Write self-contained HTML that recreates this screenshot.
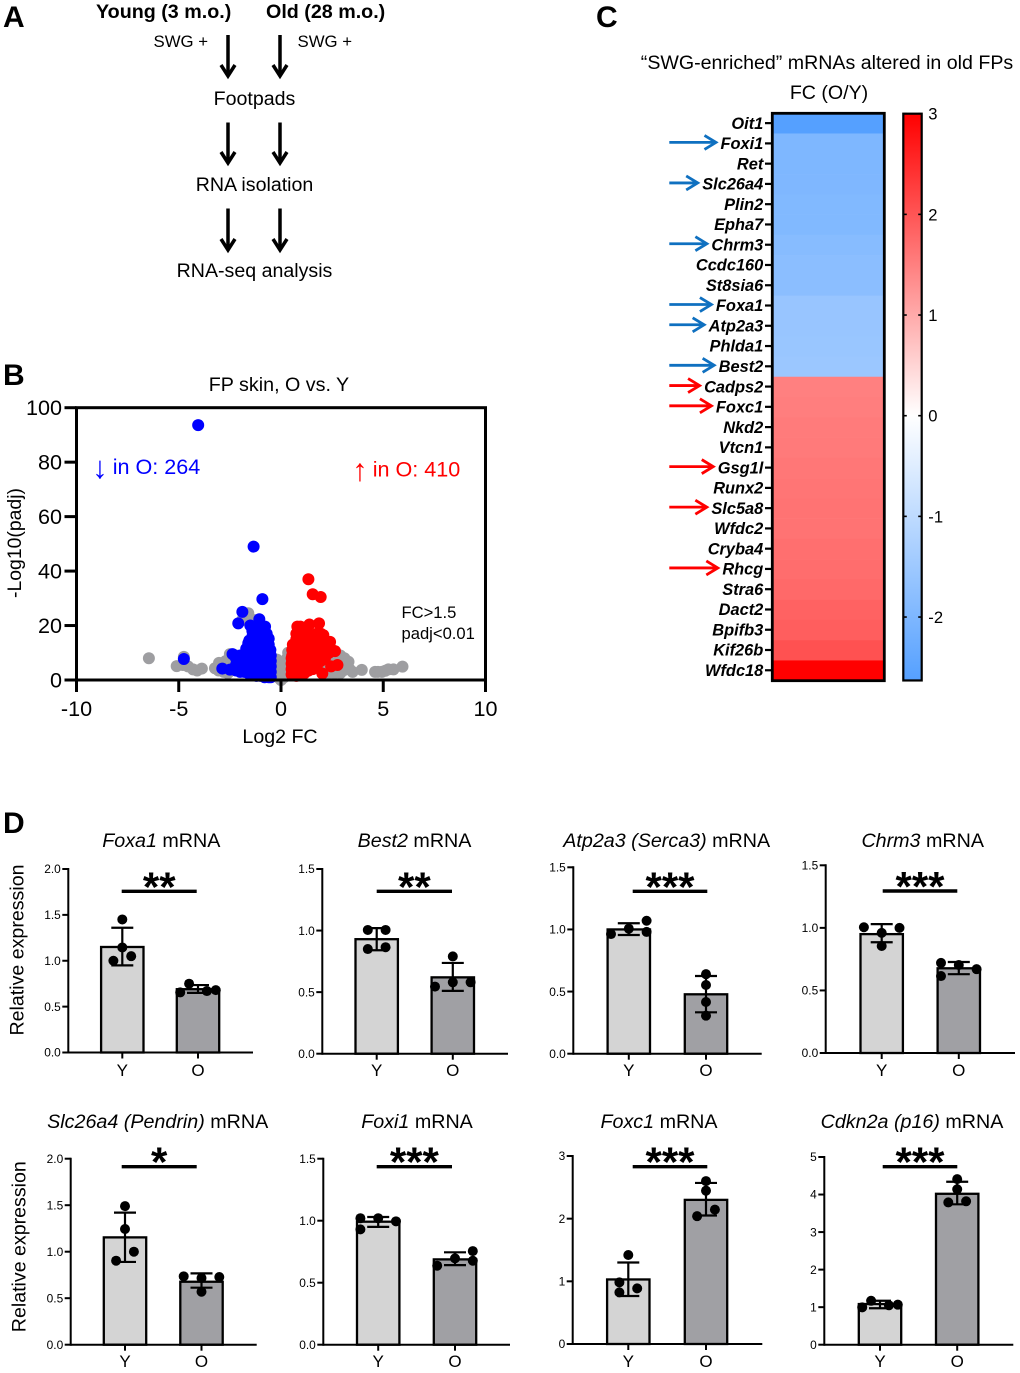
<!DOCTYPE html>
<html lang="en">
<head>
<meta charset="utf-8">
<title>Old vs young footpad RNA-seq figure</title>
<style>
html,body{margin:0;padding:0;background:#fff;}
svg{display:block;font-family:"Liberation Sans",sans-serif;fill:#000;}
</style>
</head>
<body>
<svg id="figure" xmlns="http://www.w3.org/2000/svg" width="1020" height="1373" viewBox="0 0 1020 1373">
  <rect width="1020" height="1373" fill="#fff"/>
  <g id="panel-a">
    <text x="3" y="27" font-size="30" font-weight="700">A</text>
    <text x="96" y="18" font-size="19.7" font-weight="700">Young (3 m.o.)</text>
    <text x="266" y="18" font-size="19.7" font-weight="700">Old (28 m.o.)</text>
    <text x="153.5" y="47" font-size="16.8">SWG +</text>
    <text x="297.5" y="47" font-size="16.8">SWG +</text>
    <text x="254.5" y="105" font-size="19.6" text-anchor="middle">Footpads</text>
    <text x="254.5" y="191" font-size="19.6" text-anchor="middle">RNA isolation</text>
    <text x="254.5" y="277" font-size="19.6" text-anchor="middle">RNA-seq analysis</text>
    <g id="workflow-arrows" fill="none" stroke="#000" stroke-width="3.5"></g>
  </g>
  <g id="panel-b"></g>
  <g id="panel-c"></g>
  <g id="panel-d">
    <text x="3" y="833" font-size="30" font-weight="700">D</text>
  </g>
</svg>
<script>
// ---------- Panel A ----------
const workflowColumns = [228, 280];
const workflowRows = [[35, 76], [122.5, 163], [208.5, 250]];

// ---------- Panel B data ----------
const volcanoXTicks = [-10, -5, 0, 5, 10];
const volcanoYTicks = [0, 20, 40, 60, 80, 100];
const grayPoints = [[-6.46,8],[-5.1,5.1],[-4.8,5.5],[-4.75,8.5],[-4.55,5],[-4.3,3.9],[-4.1,3.5],[-3.87,4.2],[-3.23,4.3],[-3.05,3.5],[-3.03,6.3],[-2.8,3],[-2.7,7],[-2.6,2.5],[-2.5,5],[-2.5,9.5],[-2.2,9],[-1.9,22],[-1.75,23],[-1.6,24.5],[-1.3,22],[0,0],[0,1],[-0.1,2],[0.1,2],[-0.1,3],[0.1,3],[-0.15,1],[0.15,1],[-0.25,4],[0.25,4],[-0.15,5],[0.15,5],[-0.3,6],[-0.2,7.5],[0.3,8],[0.35,10],[0.45,9],[2.1,4],[2.3,2.5],[2.3,8],[2.5,4],[2.6,2.5],[2.6,7],[2.75,8.5],[2.9,2.5],[2.9,9],[3.0,6],[3.1,3.7],[3.1,8],[3.2,5],[3.3,6.7],[3.35,4],[3.5,3],[3.95,3.7],[4.6,3],[4.75,3],[4.93,3],[5.1,3.4],[5.25,3.9],[5.5,3.9],[5.94,4.9]];
const bluePoints = [[-4.05,93.6],[-1.34,49],[-0.91,29.7],[-1.89,25],[-2.09,20.8],[-1.06,22.3],[-1.5,20],[-0.78,19.6],[-4.75,7.7],[-2.87,4.2],[-2.37,9.5],[-0.5,1],[-0.5,3],[-0.5,5],[-0.5,7],[-0.5,9],[-0.52,11],[-0.6,1],[-0.6,3],[-0.6,5],[-0.6,7],[-0.6,9],[-0.6,11],[-0.6,13],[-0.6,15.2],[-0.7,17],[-0.8,1],[-0.8,3],[-0.8,5],[-0.8,7],[-0.8,9],[-0.8,11],[-0.8,13],[-0.8,15],[-0.8,17],[-1,1.5],[-1,3],[-1,5],[-1,7],[-1,9],[-1,11],[-1,13],[-1,15],[-1,17],[-1,19],[-1.2,1.5],[-1.2,3],[-1.2,5],[-1.2,7],[-1.2,9],[-1.2,11],[-1.2,13],[-1.2,15],[-1.2,17],[-1.2,19],[-1.4,2],[-1.4,4],[-1.4,6],[-1.4,8],[-1.4,10],[-1.4,12],[-1.4,14],[-1.4,16],[-1.4,18],[-1.6,2.5],[-1.6,4],[-1.6,6],[-1.6,8],[-1.6,10],[-1.6,12],[-1.6,13.5],[-1.55,14.5],[-1.7,11.5],[-1.8,3],[-1.8,5],[-1.8,7],[-1.8,9],[-2,3],[-2,5],[-2,7.5],[-2,9],[-2.2,3.5],[-2.2,5.5],[-2.2,8],[-2.5,3.8]];
const redPoints = [[1.34,37],[1.55,31.5],[1.94,30.5],[0.8,19.6],[1.39,20.4],[1.86,20.8],[2.07,16.5],[2.4,14],[2.64,10.6],[2.76,5.5],[2.45,5],[2.02,2.4],[0.52,2],[0.52,4],[0.52,6],[0.52,8],[0.55,3],[0.55,5],[0.55,7],[0.55,9],[0.55,11],[0.58,13],[0.75,1.5],[0.75,3],[0.75,5],[0.75,7],[0.75,9],[0.75,11],[0.75,13],[0.75,15],[0.75,17],[0.95,2],[0.95,4],[0.95,6],[0.95,8],[0.95,10],[0.95,12],[0.95,14],[0.95,16],[0.95,18],[0.95,19.6],[1.15,2.5],[1.15,4],[1.15,6],[1.15,8],[1.15,10],[1.15,12],[1.15,14],[1.15,16],[1.15,18],[1.35,3.5],[1.35,5],[1.35,7],[1.35,9],[1.35,11],[1.35,13],[1.35,15],[1.35,17],[1.55,4],[1.55,6],[1.55,8],[1.55,10],[1.55,12],[1.55,14],[1.55,16],[1.75,5],[1.75,7],[1.75,9],[1.75,11],[1.75,13],[1.75,15],[1.75,17],[1.95,7],[1.95,9],[1.95,11],[1.95,13],[1.95,15],[1.95,17],[2.15,8],[2.15,10],[2.15,12],[2.15,14],[2.35,10],[2.4,12]];

// ---------- Panel C data ----------
const heatmapGenes = ["Oit1","Foxi1","Ret","Slc26a4","Plin2","Epha7","Chrm3","Ccdc160","St8sia6","Foxa1","Atp2a3","Phlda1","Best2","Cadps2","Foxc1","Nkd2","Vtcn1","Gsg1l","Runx2","Slc5a8","Wfdc2","Cryba4","Rhcg","Stra6","Dact2","Bpifb3","Kif26b","Wfdc18"];
const heatmapValues = [-2.63,-2.0,-2.0,-1.98,-1.95,-1.95,-1.85,-1.8,-1.8,-1.6,-1.6,-1.58,-1.55,1.5,1.52,1.55,1.56,1.6,1.62,1.65,1.65,1.7,1.72,1.76,1.85,1.9,2.05,3.0];
const markedGenes = ["Foxi1","Slc26a4","Chrm3","Foxa1","Atp2a3","Best2","Cadps2","Foxc1","Gsg1l","Slc5a8","Rhcg"];
const colorbarTicks = [3, 2, 1, 0, -1, -2];

// ---------- Panel D data ----------
const geneItalic = ["Foxa1","Best2","Atp2a3 (Serca3)","Chrm3","Slc26a4 (Pendrin)","Foxi1","Foxc1","Cdkn2a (p16)"];
const axisTicks = [[0,0.5,1,1.5,2],[0,0.5,1,1.5],[0,0.5,1,1.5],[0,0.5,1,1.5],[0,0.5,1,1.5,2],[0,0.5,1,1.5],[0,1,2,3],[0,1,2,3,4,5]];
const tickDigits = [1,1,1,1,1,1,0,0];
const groupNames = ["Y","O"];
const youngMeans = [1.15,0.93,1.0,0.95,1.154,0.992,1.03,1.083];
const youngErrHigh = [1.36,1.02,1.05,1.03,1.42,1.03,1.3,1.17];
const youngErrLow = [0.95,0.84,0.955,0.885,0.89,0.95,0.766,0.97];
const oldMeans = [0.69,0.62,0.478,0.677,0.677,0.688,2.3,4.02];
const oldErrHigh = [0.735,0.737,0.625,0.727,0.767,0.745,2.57,4.34];
const oldErrLow = [0.65,0.51,0.333,0.63,0.613,0.642,2.05,3.74];
const youngDots = [[1.45,1.145,1.05,1.0],[1.005,1.005,0.85,0.865],[1.07,1.006,0.98,0.963],[1.005,1.0,0.96,0.855],[1.49,1.244,1.0,0.903],[1.02,1.02,0.995,0.93],[1.42,0.984,0.888,0.824],[1.17,1.066,1.05,0.995]];
const oldDots = [[0.75,0.67,0.655,0.68],[0.79,0.58,0.58,0.545],[0.64,0.553,0.416,0.306],[0.72,0.703,0.67,0.615],[0.735,0.728,0.717,0.57],[0.755,0.677,0.696,0.637],[2.6,2.447,2.144,2.04],[4.41,4.14,3.82,3.79]];
const significance = ["**","**","***","***","*","***","***","***"];

// Swarm slot of each dot (1 slot = half a dot width step)
const youngSwarm = [[0,0,1,-1],[-1,1,-1,1],[2,0,2,-2],[-2,2,0,0],[0,0,1,-1],[-2,0,2,-2],[0,-1,1,-1],[-1,2,1,-2]];
const oldSwarm = [[-1,1,-2,2],[0,0,2,-2],[0,0,0,0],[-2,0,2,-2],[-2,2,0,0],[2,2,0,-2],[0,0,1,-1],[0,0,1,-1]];
const swarmSlot = 8.9;

// Pixel frame of each small chart: axis x, y of top tick, y of zero, baseline end, two bar centres, significance line
const chartFrames = [
  {ax:68.3, top:869, zero:1052.5, end:253, c1:122.3, c2:198, sx1:121.7, sx2:196.7, sy:891.3, tc:161.3, ty:847, gy:1076},
  {ax:322.3, top:869, zero:1053.7, end:508, c1:376.7, c2:452.8, sx1:376.7, sx2:452, sy:891.3, tc:414.5, ty:847, gy:1076},
  {ax:573.3, top:867.3, zero:1053.7, end:761.7, c1:628.8, c2:706, sx1:632.7, sx2:707.3, sy:891.3, tc:666.7, ty:847, gy:1076},
  {ax:825.7, top:865.3, zero:1053, end:1015, c1:881.7, c2:958.8, sx1:882.7, sx2:957.3, sy:891, tc:922.7, ty:847, gy:1076},
  {ax:70.7, top:1158.7, zero:1344.7, end:256.7, c1:125, c2:201.5, sx1:121.7, sx2:196.7, sy:1166.7, tc:157.7, ty:1128, gy:1367},
  {ax:323.3, top:1158.7, zero:1344.7, end:510, c1:378.2, c2:455, sx1:376.7, sx2:452, sy:1166.7, tc:417, ty:1128, gy:1367},
  {ax:572.7, top:1156, zero:1344, end:762.3, c1:628.3, c2:706, sx1:632.7, sx2:707.3, sy:1166.7, tc:659, ty:1128, gy:1367},
  {ax:824.3, top:1157, zero:1344.7, end:1013.3, c1:880, c2:957.2, sx1:882.7, sx2:957.3, sy:1166.7, tc:912, ty:1128, gy:1367}
];

// ---------- helpers ----------
const NS = "http://www.w3.org/2000/svg";
function mk(tag, attrs, parent, txt) {
  const n = document.createElementNS(NS, tag);
  for (const k in attrs) n.setAttribute(k, attrs[k]);
  if (txt !== undefined) n.textContent = txt;
  parent.appendChild(n);
  return n;
}

// ---------- draw Panel A arrows ----------
const wfGroup = document.getElementById("workflow-arrows");
workflowColumns.forEach(function (cx) {
  workflowRows.forEach(function (r) {
    const shaft = mk("line", {x1: cx, x2: cx, y1: r[0], y2: r[1] - 1}, wfGroup);
    
    
    const head = mk("polyline", {points: (cx - 7) + "," + (r[1] - 11) + " " + cx + "," + r[1] + " " + (cx + 7) + "," + (r[1] - 11)}, wfGroup);
    
    
  });
});

// ---------- draw Panel B ----------
(function () {
  const g = document.getElementById("panel-b");
  const vx = function (v) { return 281 + v * 20.45; };
  const vy = function (v) { return 680 - v * 2.723; };
  const label = mk("text", {x: 3, y: 385, "font-size": 30, "font-weight": 700}, g, "B");
  
  
  const title = mk("text", {x: 279, y: 391, "font-size": 19.7, "text-anchor": "middle"}, g, "FP skin, O vs. Y");
  
  

  grayPoints.forEach(function (p) {
    const c = mk("circle", {cx: vx(p[0]), cy: vy(p[1]), r: 6, fill: "#9e9ea1"}, g);
    
    
  });
  bluePoints.forEach(function (p) {
    const c = mk("circle", {cx: vx(p[0]), cy: vy(p[1]), r: 6, fill: "#0000ff"}, g);
    
    
  });
  redPoints.forEach(function (p) {
    const c = mk("circle", {cx: vx(p[0]), cy: vy(p[1]), r: 6, fill: "#ff0000"}, g);
    
    
  });

  const frame = mk("rect", {x: vx(-10), y: vy(100), width: vx(10) - vx(-10), height: vy(0) - vy(100), fill: "none", stroke: "#000", "stroke-width": 3}, g);
  
  

  volcanoXTicks.forEach(function (t) {
    const tick = mk("line", {x1: vx(t), x2: vx(t), y1: 680, y2: 692, stroke: "#000", "stroke-width": 3}, g);
    
    
    const lab = mk("text", {x: vx(t), y: 716, "font-size": 21.6, "text-anchor": "middle"}, g, String(t));
    
    
  });
  volcanoYTicks.forEach(function (t) {
    const tick = mk("line", {x1: 64.5, x2: vx(-10), y1: vy(t), y2: vy(t), stroke: "#000", "stroke-width": 3}, g);
    
    
    const lab = mk("text", {x: 62, y: vy(t) + 7.5, "font-size": 21.6, "text-anchor": "end"}, g, String(t));
    
    
  });

  const xTitle = mk("text", {x: 280, y: 743, "font-size": 19.6, "text-anchor": "middle"}, g, "Log2 FC");
  
  
  const yTitle = mk("text", {transform: "translate(21,543) rotate(-90)", "font-size": 19.4, "text-anchor": "middle"}, g, "-Log10(padj)");
  
  

  const downCount = mk("text", {fill: "#0000ff", "font-size": 21.6}, g);
  
  
  mk("tspan", {x: 100, y: 478, "font-size": 31, "text-anchor": "middle"}, downCount, "↓");
  mk("tspan", {x: 112.7, y: 474}, downCount, "in O: 264");
  const upCount = mk("text", {fill: "#ff0000", "font-size": 21.6}, g);
  
  
  mk("tspan", {x: 360, y: 480.5, "font-size": 31, "text-anchor": "middle"}, upCount, "↑");
  mk("tspan", {x: 372.7, y: 476.5}, upCount, "in O: 410");
  const fcNote = mk("text", {x: 401.5, y: 618, "font-size": 16.6}, g, "FC>1.5");
  
  
  const padjNote = mk("text", {x: 401.5, y: 639, "font-size": 16.6}, g, "padj<0.01");
  
  
})();

// ---------- draw Panel C ----------
(function () {
  const g = document.getElementById("panel-c");
  const hx0 = 772.3, hx1 = 884.3, hy0 = 113.3, hy1 = 680.7, rowH = (hy1 - hy0) / heatmapGenes.length;
  const barX0 = 903.3, barX1 = 921.7;
  const cbY = function (v) { return 415.7 - v * 100.67; };
  const minV = -2.63, maxV = 3;
  function colorFor(v) {
    if (v >= 0) {
      const t = v / maxV;
      return "rgb(255," + Math.round(255 * (1 - t)) + "," + Math.round(255 * (1 - t)) + ")";
    }
    const t = v / minV;
    return "rgb(" + Math.round(255 - 170 * t) + "," + Math.round(255 - 95 * t) + ",255)";
  }
  const label = mk("text", {x: 596, y: 27, "font-size": 30, "font-weight": 700}, g, "C");
  
  
  const title = mk("text", {x: 827, y: 69, "font-size": 19.6, "text-anchor": "middle"}, g, "“SWG-enriched” mRNAs altered in old FPs");
  
  
  const sub = mk("text", {x: 829, y: 99, "font-size": 19.6, "text-anchor": "middle"}, g, "FC (O/Y)");
  
  

  heatmapGenes.forEach(function (gene, i) {
    const y = hy0 + i * rowH, cy = y + rowH / 2;
    const cell = mk("rect", {x: hx0, y: y, width: hx1 - hx0, height: rowH + 0.3, fill: colorFor(heatmapValues[i])}, g);
    
    
    const tick = mk("line", {x1: 765, x2: hx0, y1: cy - 0.3, y2: cy - 0.3, stroke: "#000", "stroke-width": 2.2}, g);
    
    
    const lab = mk("text", {x: 763.3, y: cy + 5.4, "font-size": 16.4, "font-weight": 700, "font-style": "italic", "text-anchor": "end"}, g, gene);
    
    
    if (markedGenes.indexOf(gene) >= 0) {
      const col = heatmapValues[i] < 0 ? "#0f70c0" : "#ff0000";
      const tip = 763.3 - lab.getComputedTextLength() - 4;
      const ay = cy - 1.3;
      const shaft = mk("line", {x1: 669.3, x2: tip - 1.5, y1: ay, y2: ay, stroke: col, "stroke-width": 2.8}, g);
      
      
      const head = mk("polyline", {points: (tip - 12) + "," + (ay - 7) + " " + (tip - 0.5) + "," + ay + " " + (tip - 12) + "," + (ay + 7), fill: "none", stroke: col, "stroke-width": 2.8}, g);
      
      
    }
  });
  const frame = mk("rect", {x: hx0, y: hy0, width: hx1 - hx0, height: hy1 - hy0, fill: "none", stroke: "#000", "stroke-width": 2.8}, g);
  
  

  const defs = mk("defs", {}, g);
  const grad = mk("linearGradient", {id: "cbGrad", x1: 0, x2: 0, y1: 0, y2: 1}, defs);
  const zeroOff = (cbY(0) - cbY(maxV)) / (cbY(minV) - cbY(maxV));
  mk("stop", {offset: 0, "stop-color": colorFor(maxV)}, grad);
  mk("stop", {offset: zeroOff, "stop-color": "#ffffff"}, grad);
  mk("stop", {offset: 1, "stop-color": colorFor(minV)}, grad);
  const bar = mk("rect", {x: barX0, y: cbY(maxV), width: barX1 - barX0, height: cbY(minV) - cbY(maxV), fill: "url(#cbGrad)", stroke: "#000", "stroke-width": 2.2}, g);
  
  
  colorbarTicks.forEach(function (t) {
    const left = mk("line", {x1: barX0, x2: barX0 + 3.5, y1: cbY(t), y2: cbY(t), stroke: "#000", "stroke-width": 1.6}, g);
    
    
    const right = mk("line", {x1: barX1 - 3.5, x2: barX1, y1: cbY(t), y2: cbY(t), stroke: "#000", "stroke-width": 1.6}, g);
    
    
    const lab = mk("text", {x: 928.3, y: cbY(t) + 6, "font-size": 16.6}, g, String(t));
    
    
  });
})();

// ---------- draw Panel D ----------
(function () {
  const root = document.getElementById("panel-d");
  const halfBar = 21.2, capHalf = 11, dotR = 5;

  [[17, 865, 1035, 23.5], [19, 1161.7, 1331.7, 25.5]].forEach(function (r) {
    const t = mk("text", {transform: "translate(" + r[3] + "," + (r[1] + r[2]) / 2 + ") rotate(-90)", "font-size": 19.6, "text-anchor": "middle"}, root, "Relative expression");
    
    
  });

  chartFrames.forEach(function (f, i) {
    const g = mk("g", {}, root);
    
    
    const ticks = axisTicks[i];
    const maxTick = ticks[ticks.length - 1];
    const yS = function (v) { return f.zero - v / maxTick * (f.zero - f.top); };

    const title = mk("text", {x: f.tc, y: f.ty, "font-size": 19.7, "text-anchor": "middle"}, g);
    
    
    mk("tspan", {"font-style": "italic"}, title, geneItalic[i]);
    mk("tspan", {}, title, " mRNA");

    [0, 1].forEach(function (s) {
      const c = s === 0 ? f.c1 : f.c2;
      const mean = s === 0 ? youngMeans[i] : oldMeans[i];
      const hi = s === 0 ? youngErrHigh[i] : oldErrHigh[i];
      const lo = s === 0 ? youngErrLow[i] : oldErrLow[i];
      const dots = s === 0 ? youngDots[i] : oldDots[i];
      const swarm = s === 0 ? youngSwarm[i] : oldSwarm[i];

      const bar = mk("rect", {x: c - halfBar, y: yS(mean), width: halfBar * 2, height: f.zero - yS(mean), fill: s === 0 ? "#d4d4d4" : "#a0a0a4", stroke: "#000", "stroke-width": 2.3}, g);
      
      

      dots.forEach(function (v, k) {
        const dot = mk("circle", {cx: c + swarm[k] * swarmSlot, cy: yS(v), r: dotR, fill: "#000"}, g);
        
        
      });

      const stem = mk("line", {x1: c, x2: c, y1: yS(hi), y2: yS(lo), stroke: "#000", "stroke-width": 2.2}, g);
      
      
      const capHi = mk("line", {x1: c - capHalf, x2: c + capHalf, y1: yS(hi), y2: yS(hi), stroke: "#000", "stroke-width": 2.2}, g);
      
      
      const capLo = mk("line", {x1: c - capHalf, x2: c + capHalf, y1: yS(lo), y2: yS(lo), stroke: "#000", "stroke-width": 2.2}, g);
      
      

      const xTick = mk("line", {x1: c, x2: c, y1: f.zero, y2: f.zero + 6, stroke: "#000", "stroke-width": 2}, g);
      
      
      const xLab = mk("text", {x: c, y: f.gy, "font-size": 17, "text-anchor": "middle"}, g, groupNames[s]);
      
      
    });

    const yAxis = mk("line", {x1: f.ax, x2: f.ax, y1: f.top - 1, y2: f.zero + 1, stroke: "#000", "stroke-width": 2}, g);
    
    
    const xAxis = mk("line", {x1: f.ax, x2: f.end, y1: f.zero, y2: f.zero, stroke: "#000", "stroke-width": 2}, g);
    
    

    ticks.forEach(function (t) {
      const tick = mk("line", {x1: f.ax - 6, x2: f.ax, y1: yS(t), y2: yS(t), stroke: "#000", "stroke-width": 2}, g);
      
      
      const lab = mk("text", {x: f.ax - 7.5, y: yS(t) + 4.2, "font-size": 11.9, "text-anchor": "end"}, g, t.toFixed(tickDigits[i]));
      
      
    });

    const sig = mk("line", {x1: f.sx1, x2: f.sx2, y1: f.sy, y2: f.sy, stroke: "#000", "stroke-width": 3.4}, g);
    
    
    const stars = mk("text", {x: (f.sx1 + f.sx2) / 2, y: f.sy + 10, "font-size": 42, "font-weight": 700, "text-anchor": "middle"}, g, significance[i]);
    
    
  });
})();
</script>
</body>
</html>
